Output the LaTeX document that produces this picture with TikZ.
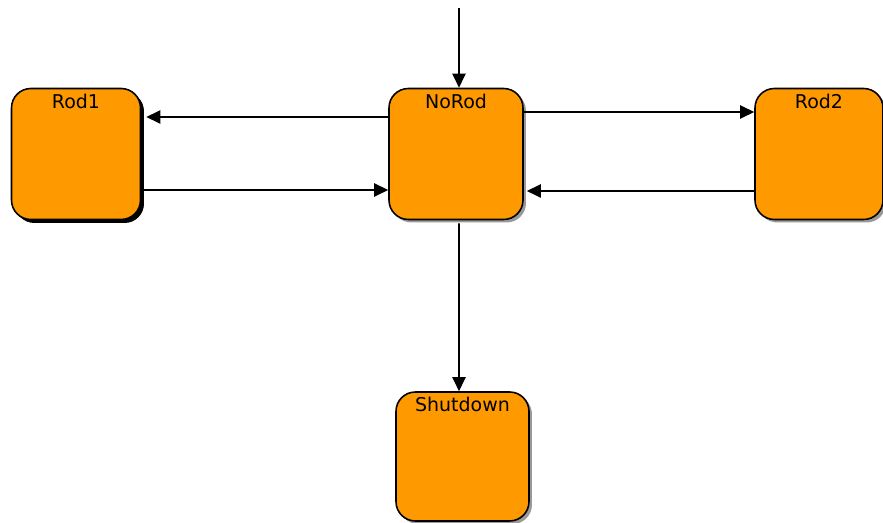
\documentclass[tikz,border=0pt]{standalone}
\usepackage{fontspec}
\setmainfont{DejaVu Sans}
\usetikzlibrary{positioning,arrows.meta,shadows}
\definecolor{stateorange}{HTML}{FF9900}

\begin{document}
\begin{tikzpicture}[
    x=0.02cm, y=-0.02cm,
    state/.style={draw, line width=0.9pt, rounded corners=11pt, fill=stateorange, minimum width=2.58cm, minimum height=2.62cm,
      drop shadow={shadow xshift=0.06cm, shadow yshift=-0.06cm, fill=gray!80, opacity=1}},
    blackshadow/.style={drop shadow={shadow xshift=0.07cm, shadow yshift=-0.07cm, fill=black, opacity=1}},
    title/.style={anchor=north, font=\fontsize{10.8}{12}\selectfont},
    arr/.style={-{Triangle[length=8pt, width=7.5pt]}, line width=0.9pt}
  ]
    \useasboundingbox (0,0) rectangle (883,523);

    \node[state, blackshadow] (rodone) at (76,154) {};
    \node[title] at (rodone.north) {Rod1};
    \node[state, minimum width=2.68cm] (norod) at (456,154) {};
    \node[title] at (norod.north) {NoRod};
    \node[state, minimum width=2.56cm] (rodtwo) at (819,154) {};
    \node[title] at (rodtwo.north) {Rod2};
    \node[state, minimum width=2.66cm, minimum height=2.58cm] (shutdown) at (462.5,456.5) {};
    \node[title] at (shutdown.north) {Shutdown};

    \coordinate (start) at (459,8);

    \draw[arr] (start) -- (start |- norod.north);
    \draw[arr] ([yshift=0.74cm]norod.west) -- ([yshift=0.74cm, xshift=0.1cm]rodone.east);
    \draw[arr] ([yshift=-0.72cm]rodone.east) -- ([yshift=-0.72cm]norod.west);
    \draw[arr] ([yshift=0.84cm]norod.east) -- ([yshift=0.84cm]rodtwo.west);
    \draw[arr] ([yshift=-0.74cm]rodtwo.west) -- ([yshift=-0.74cm, xshift=0.06cm]norod.east);
    \draw[arr] ([xshift=0.06cm, yshift=-0.06cm]norod.south) -- (shutdown.north -| start);
  \end{tikzpicture}
\end{document}
